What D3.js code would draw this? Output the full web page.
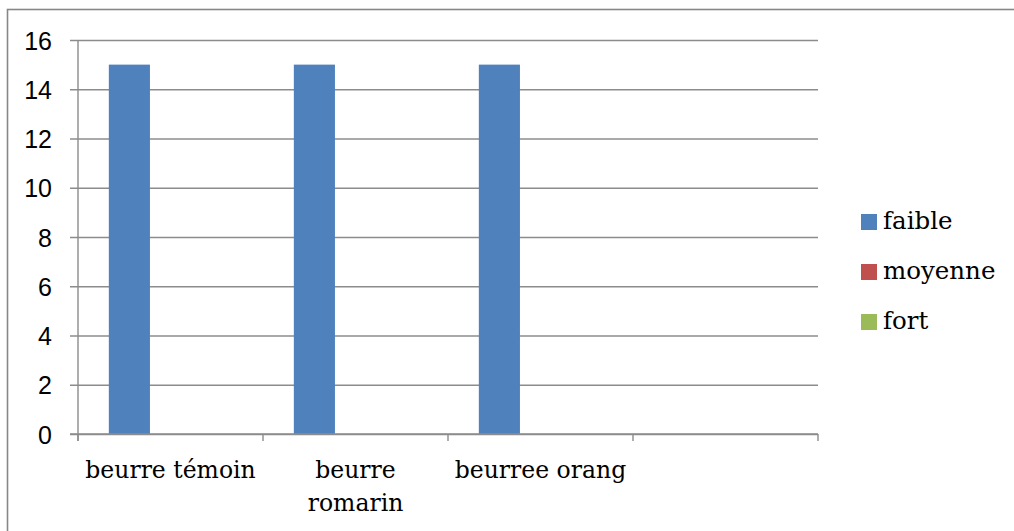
<!DOCTYPE html>
<html>
<head>
<meta charset="utf-8">
<script src="https://cdn.jsdelivr.net/npm/d3@7"></script>
<style>
  html, body { margin: 0; padding: 0; background: #fff; }
  svg { display: block; }
</style>
</head>
<body>
<svg id="chart" width="1014" height="531"></svg>
<script>
// Categories along the x axis (the last slot is an empty category)
const categories = ["beurre témoin", "beurre romarin", "beurree orang", ""];
// Series names and colours
const seriesNames = ["faible", "moyenne", "fort"];
const seriesColors = ["#4F81BD", "#C0504D", "#9BBB59"];
// Values per series, one per category
const faible  = [15, 15, 15, 0];
const moyenne = [0, 0, 0, 0];
const fort    = [0, 0, 0, 0];
const yTicks = [0, 2, 4, 6, 8, 10, 12, 14, 16];

const seriesValues = [faible, moyenne, fort];
const rows = categories.map((c, i) => ({
  cat: c, i,
  vals: seriesNames.map((s, k) => ({ key: s, value: seriesValues[k][i], color: seriesColors[k] }))
}));

const svg = d3.select("#chart");
const plot = { left: 78, right: 818, top: 40, bottom: 434 };
const gridColor = "#8c8c8c";

// Outer chart frame
svg.append("rect")
  .attr("x", 7.5).attr("y", 9.5)
  .attr("width", 1012).attr("height", 600)
  .attr("fill", "none").attr("stroke", "#878787").attr("stroke-width", 1.6);

const x0 = d3.scaleBand().domain(d3.range(categories.length))
  .range([plot.left, plot.right]).paddingInner(0).paddingOuter(0);
const x1 = d3.scaleBand().domain(seriesNames)
  .range([0, x0.bandwidth()]).paddingInner(0).paddingOuter(0.75);
const y = d3.scaleLinear().domain([0, 16]).range([plot.bottom, plot.top]);

// Horizontal gridlines with left tick marks and labels
const yAxis = d3.axisLeft(y).tickValues(yTicks)
  .tickSize(-(plot.right - plot.left)).tickPadding(26).tickSizeOuter(0);
const gy = svg.append("g").attr("transform", `translate(${plot.left},0)`).call(yAxis);
gy.select(".domain").remove();
gy.selectAll(".tick line")
  .attr("x1", -8)
  .attr("stroke", gridColor).attr("stroke-width", 1.4);
gy.selectAll(".tick text")
  .attr("font-family", "'Liberation Sans', Arial, sans-serif")
  .attr("font-size", 25).attr("fill", "#000")
  .attr("dy", "0.36em");

// Vertical value axis line
svg.append("line")
  .attr("x1", plot.left).attr("x2", plot.left)
  .attr("y1", plot.top).attr("y2", plot.bottom + 7)
  .attr("stroke", gridColor).attr("stroke-width", 1.4);

// Bars
const groups = svg.append("g").selectAll("g").data(rows).join("g")
  .attr("transform", d => `translate(${x0(d.i)},0)`);
groups.selectAll("rect").data(d => d.vals.filter(v => v.value > 0)).join("rect")
  .attr("x", v => x1(v.key))
  .attr("width", x1.bandwidth())
  .attr("y", v => y(v.value))
  .attr("height", v => y(0) - y(v.value))
  .attr("fill", v => v.color);

// Category axis with tick marks at category boundaries
const boundaries = d3.range(categories.length + 1).map(i =>
  i < categories.length ? x0(i) : x0(categories.length - 1) + x0.bandwidth());
svg.append("line")
  .attr("x1", plot.left - 8).attr("x2", plot.right)
  .attr("y1", plot.bottom).attr("y2", plot.bottom)
  .attr("stroke", gridColor).attr("stroke-width", 1.4);
svg.append("g").selectAll("line").data(boundaries).join("line")
  .attr("x1", d => d).attr("x2", d => d)
  .attr("y1", plot.bottom).attr("y2", plot.bottom + 7)
  .attr("stroke", gridColor).attr("stroke-width", 1.4);

// Category labels, wrapped when wider than the category slot
const labelFont = "'DejaVu Serif', 'Liberation Serif', serif";
const maxLabelW = 176;
const lbl = svg.append("g").selectAll("text").data(rows).join("text")
  .attr("font-family", labelFont).attr("font-size", 23.5).attr("fill", "#000")
  .attr("text-anchor", "middle");
lbl.each(function(d) {
  const t = d3.select(this);
  const cx = x0(d.i) + x0.bandwidth() / 2;
  const words = d.cat.split(" ").filter(w => w.length);
  let line = [];
  const lines = [];
  const probe = t.append("tspan");
  words.forEach(w => {
    const test = line.concat([w]).join(" ");
    probe.text(test);
    if (probe.node().getComputedTextLength() > maxLabelW && line.length) {
      lines.push(line.join(" "));
      line = [w];
    } else {
      line.push(w);
    }
  });
  if (line.length) lines.push(line.join(" "));
  probe.remove();
  lines.forEach((l, k) => {
    t.append("tspan").attr("x", cx).attr("y", 478 + k * 33).text(l);
  });
});

// Legend
const legend = svg.append("g").selectAll("g").data(seriesNames).join("g")
  .attr("transform", (d, i) => `translate(861,${214 + i * 50})`);
legend.append("rect")
  .attr("width", 16).attr("height", 16)
  .attr("fill", (d, i) => seriesColors[i]);
legend.append("text")
  .attr("x", 22).attr("y", 15)
  .attr("font-family", labelFont).attr("font-size", 24.5).attr("fill", "#000")
  .text(d => d);
</script>
</body>
</html>
